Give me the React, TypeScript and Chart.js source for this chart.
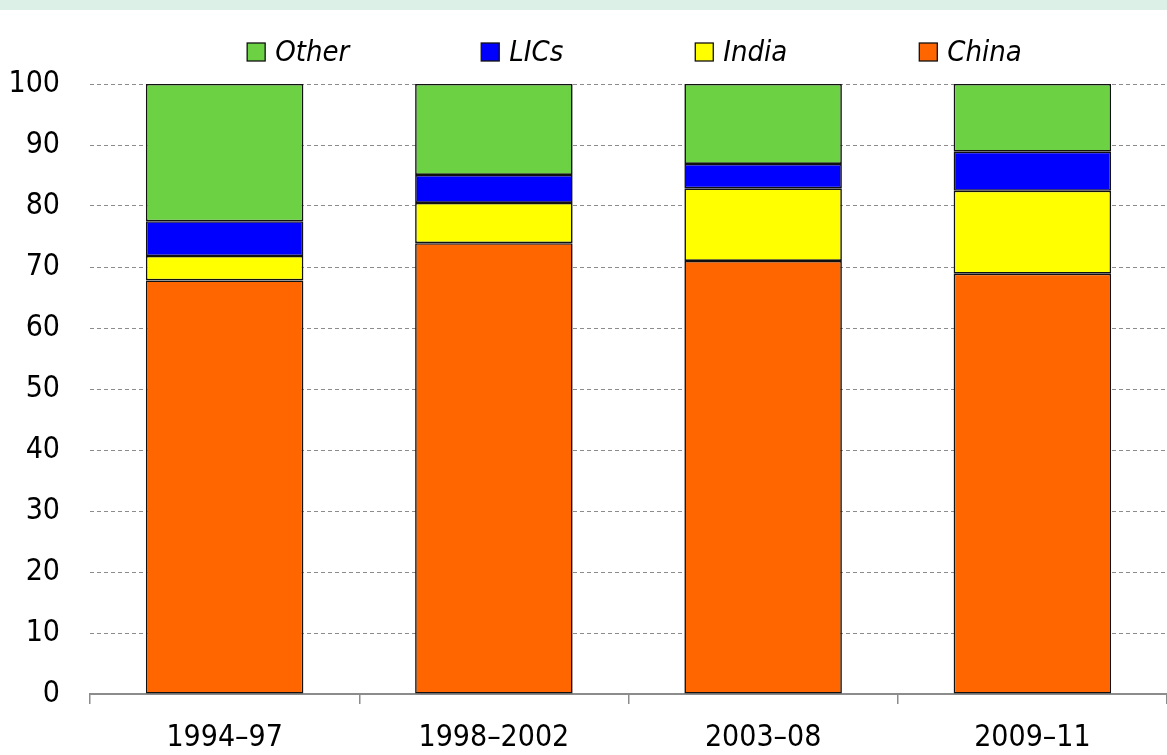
import React, { useEffect, useRef } from "react";
import { Chart, registerables } from "chart.js";

Chart.register(...registerables);

const categories = ["1994–97", "1998–2002", "2003–08", "2009–11"];
const seriesNames = ["China", "India", "LICs", "Other"];
const china = [67.8, 73.9, 71.0, 68.9];
const india = [4.0, 6.6, 11.9, 13.6];
const lics = [5.7, 4.6, 4.0, 6.4];
const other = [22.5, 14.9, 13.1, 11.1];
const colors = ["#FF6600", "#FFFF00", "#0000FF", "#6CD243"];
const yMin = 0;
const yMax = 100;
const yStep = 10;

const FONT = '"Liberation Sans Narrow", "DejaVu Sans Condensed", "Roboto Condensed", sans-serif';

const bandPlugin = {
  id: "topBand",
  beforeDraw(chart: any) {
    const { ctx, width } = chart;
    ctx.save();
    ctx.fillStyle = "#DCF0E8";
    ctx.fillRect(0, 0, width, 10);
    ctx.restore();
  },
};

const legendPlugin = {
  id: "customLegend",
  afterDraw(chart: any) {
    const { ctx, chartArea } = chart;
    const ds = chart.data.datasets.slice().reverse();
    ctx.save();
    ctx.font = `italic 29px ${FONT}`;
    const box = 18;
    const textGap = 10;
    const gap = 132;
    const widths = ds.map((d: any) => box + textGap + ctx.measureText(d.label).width);
    const total = widths.reduce((a: number, b: number) => a + b, 0) + gap * (ds.length - 1);
    let x = (chartArea.left + chartArea.right) / 2 + 6 - total / 2;
    const y = 52;
    ds.forEach((d: any, i: number) => {
      ctx.fillStyle = d.backgroundColor;
      ctx.fillRect(x, y - box / 2, box, box);
      ctx.strokeStyle = "#111";
      ctx.lineWidth = 1.3;
      ctx.strokeRect(x, y - box / 2, box, box);
      ctx.fillStyle = "#000";
      ctx.textAlign = "left";
      ctx.textBaseline = "middle";
      ctx.fillText(d.label, x + box + textGap, y + 1);
      x += widths[i] + gap;
    });
    ctx.restore();
  },
};

export default function App() {
  const ref = useRef<HTMLCanvasElement>(null);

  useEffect(() => {
    if (!ref.current) return;
    const values = [china, india, lics, other];
    const chart = new Chart(ref.current, {
      type: "bar",
      data: {
        labels: categories,
        datasets: seriesNames.map((name, i) => ({
          label: name,
          data: values[i],
          backgroundColor: colors[i],
          borderColor: "#111111",
          borderWidth: 1.6,
          borderSkipped: false,
          categoryPercentage: 1,
          barPercentage: 0.585,
        })),
      },
      options: {
        animation: false,
        responsive: true,
        maintainAspectRatio: false,
        layout: { padding: { top: 84, right: 0, left: 0, bottom: 0 } },
        plugins: {
          legend: { display: false },
          tooltip: { enabled: false },
        },
        scales: {
          x: {
            stacked: true,
            offset: true,
            afterFit(scale: any) {
              scale.height = 61;
            },
            grid: {
              offset: true,
              drawOnChartArea: false,
              drawTicks: true,
              tickLength: 10,
              color: "#8c8c8c",
              lineWidth: 1.5,
            },
            border: { display: true, color: "#8c8c8c", width: 2 },
            ticks: {
              color: "#000",
              padding: 16,
              font: { family: FONT, size: 30 },
            },
          },
          y: {
            stacked: true,
            min: yMin,
            max: yMax,
            afterFit(scale: any) {
              scale.width = 90;
            },
            grid: {
              drawTicks: false,
              color: "#8c8c8c",
              lineWidth: 1,
            },
            border: { display: false, dash: [4, 3] },
            ticks: {
              stepSize: yStep,
              color: "#000",
              padding: 30,
              font: { family: FONT, size: 30 },
            },
          },
        },
      },
      plugins: [bandPlugin, legendPlugin],
    });
    return () => chart.destroy();
  }, []);

  return (
    <div style={{ position: "fixed", left: 0, top: 0, width: 1167, height: 755, background: "#fff" }}>
      <canvas ref={ref} />
    </div>
  );
}
